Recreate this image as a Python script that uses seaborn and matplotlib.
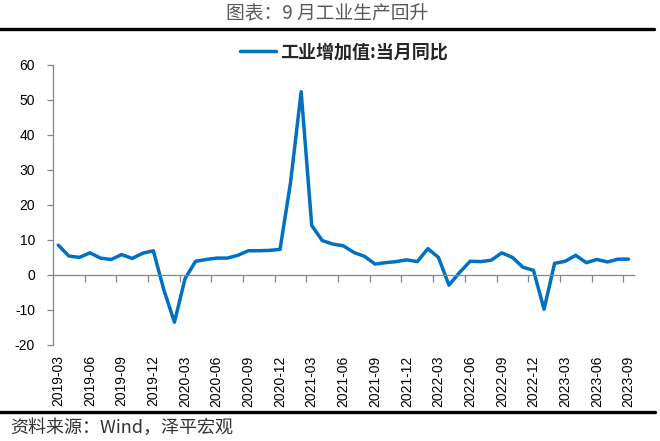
import matplotlib
matplotlib.use("Agg")
import matplotlib.pyplot as plt
from matplotlib.lines import Line2D
import seaborn as sns
import numpy as np
import pandas as pd

# ---- data ----
months = [
    "2019-03", "2019-04", "2019-05", "2019-06", "2019-07", "2019-08", "2019-09", "2019-10", "2019-11", "2019-12",
    "2020-01", "2020-02", "2020-03", "2020-04", "2020-05", "2020-06", "2020-07", "2020-08", "2020-09", "2020-10", "2020-11", "2020-12",
    "2021-01", "2021-02", "2021-03", "2021-04", "2021-05", "2021-06", "2021-07", "2021-08", "2021-09", "2021-10", "2021-11", "2021-12",
    "2022-01", "2022-02", "2022-03", "2022-04", "2022-05", "2022-06", "2022-07", "2022-08", "2022-09", "2022-10", "2022-11", "2022-12",
    "2023-01", "2023-02", "2023-03", "2023-04", "2023-05", "2023-06", "2023-07", "2023-08", "2023-09",
]
ip_yoy = [
    8.5, 5.4, 5.0, 6.3, 4.8, 4.4, 5.8, 4.7, 6.2, 6.9,
    -4.3, -13.5, -1.1, 3.9, 4.4, 4.8, 4.8, 5.6, 6.9, 6.9, 7.0, 7.3,
    26.5, 52.3, 14.1, 9.8, 8.8, 8.3, 6.4, 5.3, 3.1, 3.5, 3.8, 4.3,
    3.8, 7.5, 5.0, -2.9, 0.7, 3.9, 3.8, 4.2, 6.3, 5.0, 2.2, 1.3,
    -9.8, 3.3, 3.9, 5.6, 3.5, 4.4, 3.7, 4.5, 4.5,
]
series_name = "工业增加值:当月同比"
title_text = "图表：9 月工业生产回升"
source_text = "资料来源：Wind，泽平宏观"
y_ticks = [-20, -10, 0, 10, 20, 30, 40, 50, 60]

df = pd.DataFrame({"idx": np.arange(len(months)), "month": months, "value": ip_yoy})

# ---- style ----
sns.set_theme(style="white")
plt.rcParams["font.family"] = ["Liberation Sans", "Noto Sans CJK SC", "DejaVu Sans"]
plt.rcParams["axes.unicode_minus"] = False

W, H = 660, 441
fig = plt.figure(figsize=(W / 100, H / 100), dpi=100)
ax = fig.add_axes([53 / W, 1 - 345 / H, (633.8 - 53) / W, (345 - 64.7) / H])

line_color = "#0070C0"
axis_gray = "#868686"

sns.lineplot(data=df, x="idx", y="value", ax=ax, color=line_color, linewidth=2.5,
             label=series_name)

ax.set_xlim(-0.5, len(months) - 0.5)
ax.set_ylim(-20, 60)
ax.set_xlabel("")
ax.set_ylabel("")

# spines
for s in ["top", "right"]:
    ax.spines[s].set_visible(False)
ax.spines["left"].set_color(axis_gray)
ax.spines["left"].set_linewidth(0.9)
ax.spines["bottom"].set_position(("data", 0))
ax.spines["bottom"].set_color(axis_gray)
ax.spines["bottom"].set_linewidth(0.9)

# y ticks
ax.set_yticks(y_ticks)
ax.set_yticklabels([str(v) for v in y_ticks])
ax.tick_params(axis="y", which="major", direction="out", length=4, width=0.9,
               color=axis_gray, pad=9, labelsize=10, labelcolor="#000000", left=True)

# x ticks: labels every 3 months, tick marks at category boundaries
label_pos = list(range(0, len(months), 3))
ax.set_xticks(label_pos)
ax.set_xticklabels([months[i] for i in label_pos], rotation=90)
ax.tick_params(axis="x", which="major", length=0, pad=58, labelsize=10, labelcolor="#000000", bottom=True)
ax.set_xticks(np.arange(2.5, len(months) - 1, 3), minor=True)
ax.tick_params(axis="x", which="minor", direction="out", length=5, width=0.9,
               color=axis_gray, bottom=True)
ax.grid(False)

# legend
leg = ax.legend(loc="center", bbox_to_anchor=(344 / W, 1 - 52 / H), bbox_transform=fig.transFigure,
                frameon=False, handlelength=2.0, handletextpad=0.25, borderpad=0,
                prop={"family": ["Noto Sans CJK SC"], "weight": "bold", "size": 13})

# title and source
fig.text(327.5 / W, 1 - 13.5 / H, title_text, ha="center", va="center",
         fontsize=13.5, color="#595959", family=["Noto Sans CJK SC", "DejaVu Sans"])
fig.text(10 / W, 1 - 428 / H, source_text, ha="left", va="center",
         fontsize=13, color="#333333", family=["Noto Sans CJK SC", "DejaVu Sans"])

# horizontal rules
fig.add_artist(Line2D([0, 654 / W], [1 - 29 / H, 1 - 29 / H], transform=fig.transFigure,
                      color="black", linewidth=2.4))
fig.add_artist(Line2D([0, 655 / W], [1 - 412 / H, 1 - 412 / H], transform=fig.transFigure,
                      color="black", linewidth=2.4))

fig.savefig("out.png", dpi=100)
